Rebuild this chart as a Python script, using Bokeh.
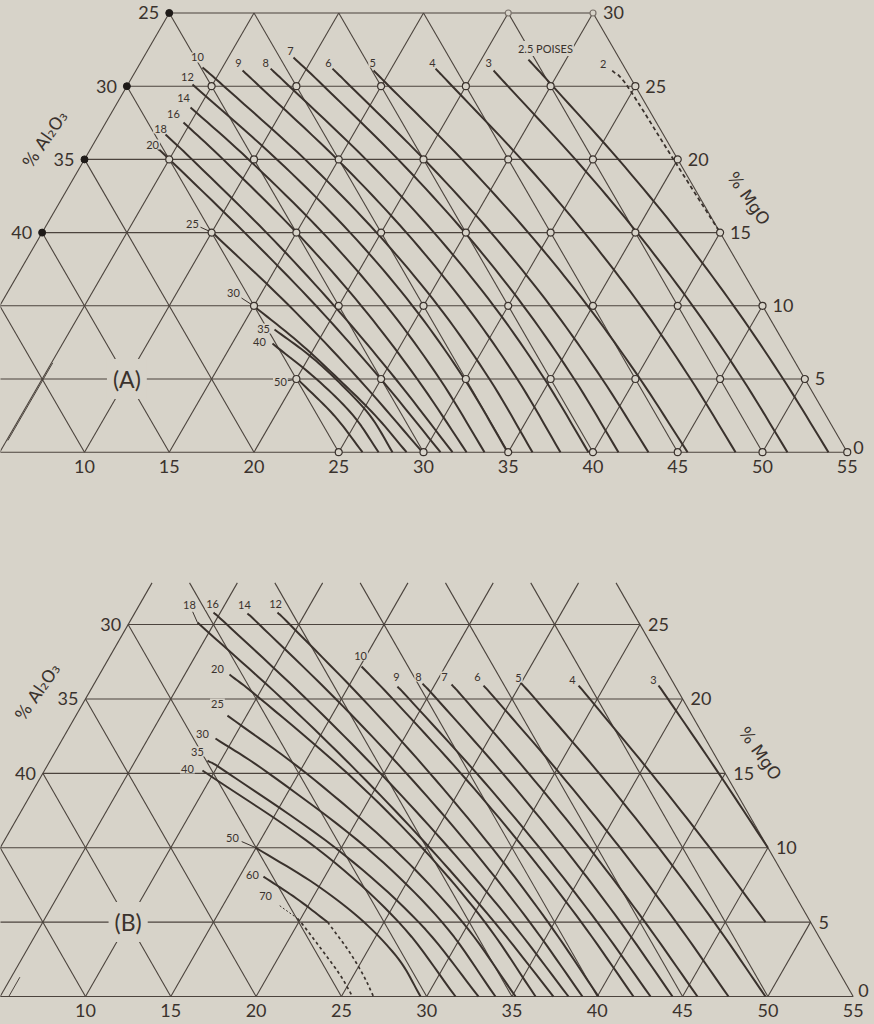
import numpy as np
from bokeh.plotting import figure
from bokeh.layouts import column
from bokeh.models import ColumnDataSource, Range1d
from bokeh.core.properties import value
from bokeh.embed import file_html
from bokeh.resources import INLINE

# ---------------- data (compositions: c = bottom-axis %, m = % MgO) ----------------
TOTAL = 55.0
BOTTOM_TICKS = [10, 15, 20, 25, 30, 35, 40, 45, 50, 55]
A_MGO_TICKS = [0, 5, 10, 15, 20, 25, 30]
A_AL_TICKS = [25, 30, 35, 40]
B_MGO_TICKS = [0, 5, 10, 15, 20, 25]
B_AL_TICKS = [30, 35, 40]

# panel A iso-viscosity curves (poises)
A_VISC = ["2", "2.5", "3", "4", "5", "6", "7", "8", "9", "10",
          "12", "14", "16", "18", "20", "25", "30", "35", "40", "50"]
A_C = [[28.1, 29.53, 34.75, 40.0],
       [22.78, 25.13, 31.50, 37.57, 43.30, 48.72, 53.89],
       [21.10, 22.48, 28.96, 35.10, 40.88, 46.32, 51.47],
       [17.61, 19.20, 25.78, 31.99, 37.82, 43.26, 48.41],
       [14.02, 15.47, 22.27, 28.68, 34.68, 40.28, 45.58],
       [11.53, 13.19, 20.04, 26.48, 32.48, 38.04, 43.27],
       [8.85, 11.62, 18.50, 24.94, 30.89, 36.39, 41.50],
       [7.88, 9.58, 16.60, 23.12, 29.14, 34.64, 39.73],
       [6.29, 7.82, 14.91, 21.49, 27.52, 33.03, 38.08],
       [3.82, 5.72, 13.01, 19.73, 25.86, 31.39, 36.43],
       [3.81, 11.35, 18.17, 24.35, 29.91, 34.96],
       [4.48, 9.68, 16.55, 22.81, 28.46, 33.60],
       [4.58, 8.18, 15.01, 21.33, 27.13, 32.54],
       [3.93, 6.34, 13.23, 19.73, 25.86, 31.71],
       [3.94, 5.01, 11.95, 18.66, 24.98, 31.00],
       [10.05, 17.08, 23.68, 29.94],
       [14.97, 18.85, 22.48, 25.87, 29.0],
       [17.02, 19.81, 22.32, 25.56, 28.17],
       [17.38, 21.18, 24.57, 27.35],
       [20.06, 23.47, 26.40]]
A_M = [[26.07, 25, 20, 15],
       [26.82, 25, 20, 15, 10, 5, 0],
       [26.07, 25, 20, 15, 10, 5, 0],
       [26.2, 25, 20, 15, 10, 5, 0],
       [26.07, 25, 20, 15, 10, 5, 0],
       [26.2, 25, 20, 15, 10, 5, 0],
       [26.96, 25, 20, 15, 10, 5, 0],
       [26.2, 25, 20, 15, 10, 5, 0],
       [26.07, 25, 20, 15, 10, 5, 0],
       [26.28, 25, 20, 15, 10, 5, 0],
       [25.12, 20, 15, 10, 5, 0],
       [23.55, 20, 15, 10, 5, 0],
       [22.52, 20, 15, 10, 5, 0],
       [21.7, 20, 15, 10, 5, 0],
       [20.74, 20, 15, 10, 5, 0],
       [15, 10, 5, 0],
       [10, 7.53, 5, 2.53, 0],
       [8.38, 6.71, 5, 2.53, 0],
       [7.42, 5, 2.53, 0],
       [5, 2.51, 0]]

# panel A measured compositions
A_OPEN_C = [5, 10, 15, 20, 25, 30,
            5, 10, 15, 20, 25, 30, 35,
            10, 15, 20, 25, 30, 35, 40,
            15, 20, 25, 30, 35, 40, 45,
            20, 25, 30, 35, 40, 45, 50,
            25, 30, 35, 40, 45, 50, 55]
A_OPEN_M = [25] * 6 + [20] * 7 + [15] * 7 + [10] * 7 + [5] * 7 + [0] * 7
A_DOT_C = [0, 0, 0, 0]
A_DOT_M = [30, 25, 20, 15]
A_GREY_C = [20, 25]
A_GREY_M = [30, 30]

# panel B iso-viscosity curves (solid parts)
B_VISC = ["3", "4", "5", "6", "7", "8", "9", "10", "12", "14",
          "16", "18", "20", "25", "30", "35", "40", "50", "60"]
B_C = [[33.14, 34.14, 39.62, 45.0],
       [28.45, 29.56, 35.66, 41.59, 47.36],
       [24.95, 26.36, 32.61, 38.60, 44.35, 49.86],
       [22.88, 24.03, 30.30, 36.33, 42.12, 47.69],
       [20.97, 22.22, 28.47, 34.51, 40.30, 45.87],
       [19.24, 20.59, 26.95, 33.04, 38.86, 44.41],
       [17.87, 18.97, 25.43, 31.61, 37.50, 43.12],
       [15.09, 18.01, 24.50, 30.68, 36.56, 42.12],
       [8.35, 9.48, 16.25, 22.69, 28.82, 34.61, 40.07],
       [6.62, 7.69, 14.67, 21.31, 27.60, 33.54, 39.13],
       [4.60, 5.79, 12.95, 19.79, 26.29, 32.47, 38.31],
       [4.00, 11.54, 18.53, 25.17, 31.47, 37.43],
       [7.62, 10.26, 17.85, 24.73, 30.91, 36.38],
       [8.88, 15.44, 23.01, 29.60, 35.21],
       [8.95, 13.24, 21.47, 28.40, 34.03],
       [9.22, 10.87, 19.64, 27.03, 33.04],
       [9.26, 18.51, 25.86, 31.69],
       [14.96, 19.73, 23.82, 27.12, 29.64],
       [16.40, 19.07, 21.69]]
B_M = [[20.9, 20, 15, 10],
       [20.9, 20, 15, 10, 5],
       [21.1, 20, 15, 10, 5, 0],
       [20.9, 20, 15, 10, 5, 0],
       [20.97, 20, 15, 10, 5, 0],
       [21.03, 20, 15, 10, 5, 0],
       [20.83, 20, 15, 10, 5, 0],
       [22.18, 20, 15, 10, 5, 0],
       [25.81, 25, 20, 15, 10, 5, 0],
       [25.74, 25, 20, 15, 10, 5, 0],
       [25.81, 25, 20, 15, 10, 5, 0],
       [25.13, 20, 15, 10, 5, 0],
       [21.64, 20, 15, 10, 5, 0],
       [18.88, 15, 10, 5, 0],
       [17.34, 15, 10, 5, 0],
       [15.86, 15, 10, 5, 0],
       [15.19, 10, 5, 0],
       [10.01, 7.53, 5, 2.49, 0],
       [8.06, 6.59, 5]]
# panel B dotted (extrapolated) parts
B_DOT_VISC = ["60", "70"]
B_DOT_C = [[21.69, 23.87, 25.59, 26.88],
           [19.81, 20.39, 22.34, 24.24, 25.65]]
B_DOT_M = [[5, 3.09, 1.41, 0],
           [5.24, 4.77, 3.09, 1.41, 0]]

# ---------------- layout / style ----------------
BG = "#d7d3c9"
INK = "#3a322d"
GRID = "#4b433d"
FONT = "Lato"
SQ = np.sqrt(3) / 2
W = 874

A_LABEL_OFF = [(-9, -7), (17, -11), (-5, -8), (-3, -6), (-1, -8), (-4, -6), (-3, -7),
               (-5, -6), (-4, -8), (-5, -10), (-5, -7), (-7, -9), (-10, -9), (-5, -6),
               (-5, -4), (-20, -9), (-20, -13), (-11, -1), (-13, -2), (-17, 3)]
A_LEADERS = ["25", "30", "50"]
B_LABEL_OFF = [(-5, -6), (-6, -6), (-2, -5), (-6, -9), (-7, -8), (-4, -7), (-1, -10),
               (-1, -11), (-2, -8), (-3, -9), (-1, -8), (-8, -18), (-12, -6), (-10, -12),
               (-13, -5), (-10, -9), (-15, -2), (-23, -10), (-11, -2)]
B_LEADERS = ["18", "50"]
B_DOT_LABEL_OFF = [None, (-32, -23)]


def xy(c, m):
    c = np.asarray(c, float)
    m = np.asarray(m, float)
    return c + m / 2.0, m * SQ


def smooth(X, Y, n=10):
    """Catmull-Rom path through the given points (rendering only)."""
    P = np.column_stack([X, Y])
    if len(P) < 3:
        return X, Y
    ext = np.vstack([2 * P[0] - P[1], P, 2 * P[-1] - P[-2]])
    out = []
    t = np.linspace(0, 1, n, endpoint=False)[:, None]
    for i in range(1, len(ext) - 2):
        p0, p1, p2, p3 = ext[i - 1], ext[i], ext[i + 1], ext[i + 2]
        seg = 0.5 * ((2 * p1) + (-p0 + p2) * t + (2 * p0 - 5 * p1 + 4 * p2 - p3) * t ** 2
                     + (-p0 + 3 * p1 - 3 * p2 + p3) * t ** 3)
        out.append(seg)
    out.append(P[-1][None, :])
    R = np.vstack(out)
    return R[:, 0], R[:, 1]


class Panel:
    def __init__(self, X0, X1, Y0, Y1, h):
        self.h = h
        self.sx = W / (X1 - X0)
        self.sy = h / (Y1 - Y0)
        self.X0 = X0
        self.p = figure(width=W, height=h, x_range=Range1d(X0, X1), y_range=Range1d(Y0, Y1),
                        output_backend="svg", toolbar_location=None, min_border=0,
                        x_axis_location=None, y_axis_location=None,
                        background_fill_color=BG, border_fill_color=BG, outline_line_color=None)
        self.p.xgrid.visible = False
        self.p.ygrid.visible = False

    def off(self, X, Y, dx, dy):
        return np.asarray(X) + np.asarray(dx) / self.sx, np.asarray(Y) - np.asarray(dy) / self.sy

    def text(self, X, Y, texts, size, align="center", baseline="middle", angle=0.0, bg=False,
             font=FONT, pad=1):
        src = ColumnDataSource(dict(x=list(np.atleast_1d(X)), y=list(np.atleast_1d(Y)), t=list(texts)))
        kw = {}
        if bg:
            kw = dict(background_fill_color=BG, padding=pad)
        self.p.text("x", "y", text="t", source=src, text_font=value(font),
                    text_font_size=f"{size}px", text_align=align, text_baseline=baseline,
                    angle=angle, text_color=INK, **kw)

    def grid(self, mtop, hmax):
        xs, ys = [], []
        for k in range(0, int(TOTAL) + 1, 5):
            mmax = min(mtop, TOTAL - k)
            if mmax <= 0:
                continue
            X, Y = xy([k, k], [0, mmax])
            xs.append(list(X)); ys.append(list(Y))
            X, Y = xy([TOTAL - k, TOTAL - k - mmax], [0, mmax])
            xs.append(list(X)); ys.append(list(Y))
        for mk in range(0, hmax + 1, 5):
            X, Y = xy([0, TOTAL - mk], [mk, mk])
            xs.append(list(X)); ys.append(list(Y))
        self.p.multi_line(xs, ys, line_color=GRID, line_width=1.1)

    def curves(self, visc, cs, ms, offs, leaders=(), dashed=(), dotted=False):
        for lab, c, m in zip(visc, cs, ms):
            X, Y = smooth(*xy(c, m))
            if lab in dashed:
                self.p.line(X, Y, line_color=INK, line_width=1.8, line_dash="4 3")
            elif dotted:
                self.p.line(X, Y, line_color=INK, line_width=1.7, line_dash="3 3")
            else:
                self.p.line(X, Y, line_color=INK, line_width=2.0, line_join="round")
        lab_out, lx, ly = [], [], []
        for lab, c, m, o in zip(visc, cs, ms, offs):
            if o is None:
                continue
            sx, sy = xy(c[0], m[0])
            tx, ty = self.off(sx, sy, o[0], o[1])
            lab_out.append(lab); lx.append(float(tx)); ly.append(float(ty))
            if lab in leaders:
                ex, ey = self.off(sx, sy, 0.6 * o[0], 0.6 * o[1])
                self.p.line([float(sx), float(ex)], [float(sy), float(ey)], line_color=INK,
                            line_width=1.0, line_dash=("2 2" if dotted else "solid"))
        return lab_out, lx, ly


# ---------------- panel A ----------------
A = Panel(5.044, 56.608, -2.2656, 26.720, 490)
A.grid(30, 30)
Xv, Yv = xy([0.0, 0.0], [0.8, 6.1])
A.p.line(Xv - Xv[0] + A.X0 + 7.3 / A.sx, Yv, line_color=GRID, line_width=1.0)
labs, lx, ly = A.curves(A_VISC, A_C, A_M, A_LABEL_OFF, leaders=A_LEADERS, dashed=("2",))
X, Y = xy(A_OPEN_C, A_OPEN_M)
A.p.scatter(X, Y, size=7, fill_color=BG, line_color=INK, line_width=1.2)
X, Y = xy(A_DOT_C, A_DOT_M)
A.p.scatter(X, Y, size=7, fill_color="#1e1a18", line_color="#1e1a18")
X, Y = xy(A_GREY_C, A_GREY_M)
A.p.scatter(X, Y, size=6, fill_color=BG, line_color="#7a726b", line_width=1.2)
labs = [("2.5 POISES" if v == "2.5" else v) for v in labs]
A.text(lx, ly, labs, 11, bg=True)
# axis labels
X, Y = xy(BOTTOM_TICKS, [0] * len(BOTTOM_TICKS))
X, Y = A.off(X, Y, 0, 14)
A.text(X, Y, [str(t) for t in BOTTOM_TICKS], 18)
mt = [t for t in A_MGO_TICKS if t > 0]
X, Y = xy([TOTAL - t for t in mt], mt)
X, Y = A.off(X, Y, 10, 0)
A.text(X, Y, [str(t) for t in mt], 18, align="left")
X, Y = xy([TOTAL], [0])
X, Y = A.off(X, Y, 6, -5)
A.text(X, Y, ["0"], 18, align="left")
X, Y = xy([0] * len(A_AL_TICKS), [TOTAL - t for t in A_AL_TICKS])
X, Y = A.off(X, Y, -10, 0)
A.text(X, Y, [str(t) for t in A_AL_TICKS], 18, align="right")
X, Y = xy([10], [5])
A.text(X, Y, ["(A)"], 23, bg=True, pad=6)
X, Y = xy([0], [25])
X, Y = A.off(X, Y, -82, 53)
A.text(X, Y, ["% Al\u2082O\u2083"], 17, angle=np.radians(55), font="DejaVu Sans")
X, Y = xy([TOTAL - 20], [20])
X, Y = A.off(X, Y, 71, 39)
A.text(X, Y, ["% MgO"], 17, angle=-np.radians(55), font="DejaVu Sans")

# ---------------- panel B ----------------
B = Panel(5.0176, 56.249, -1.513, 29.453, 532)
B.grid(27.8, 25)
Xv, Yv = xy([0.0, 0.0], [0.0, 1.3])
B.p.line(Xv - Xv[0] + B.X0 + 8.3 / B.sx, Yv, line_color=GRID, line_width=1.0)
labs, lx, ly = B.curves(B_VISC, B_C, B_M, B_LABEL_OFF, leaders=B_LEADERS)
labs2, lx2, ly2 = B.curves(B_DOT_VISC, B_DOT_C, B_DOT_M, B_DOT_LABEL_OFF,
                           leaders=["70"], dotted=True)
B.text(lx + lx2, ly + ly2, labs + labs2, 11, bg=True)
X, Y = xy(BOTTOM_TICKS, [0] * len(BOTTOM_TICKS))
X, Y = B.off(X, Y, 0, 14)
B.text(X, Y, [str(t) for t in BOTTOM_TICKS], 18)
mt = [t for t in B_MGO_TICKS if t > 0]
X, Y = xy([TOTAL - t for t in mt], mt)
X, Y = B.off(X, Y, 8, 0)
B.text(X, Y, [str(t) for t in mt], 18, align="left")
X, Y = xy([TOTAL], [0])
X, Y = B.off(X, Y, 5, -6)
B.text(X, Y, ["0"], 18, align="left")
X, Y = xy([0] * len(B_AL_TICKS), [TOTAL - t for t in B_AL_TICKS])
X, Y = B.off(X, Y, -7, 0)
B.text(X, Y, [str(t) for t in B_AL_TICKS], 18, align="right")
X, Y = xy([10], [5])
B.text(X, Y, ["(B)"], 23, bg=True, pad=6)
X, Y = xy([0], [20])
X, Y = B.off(X, Y, -48, -7)
B.text(X, Y, ["% Al\u2082O\u2083"], 17, angle=np.radians(55), font="DejaVu Sans")
X, Y = xy([TOTAL - 15], [15])
X, Y = B.off(X, Y, 35, -20)
B.text(X, Y, ["% MgO"], 17, angle=-np.radians(55), font="DejaVu Sans")

layout = column(A.p, B.p, spacing=0)
html = file_html(layout, INLINE)
html = html.replace("<head>", "<head><style>html,body{background-color:%s;}</style>" % BG, 1)
open("out.html", "w").write(html)
